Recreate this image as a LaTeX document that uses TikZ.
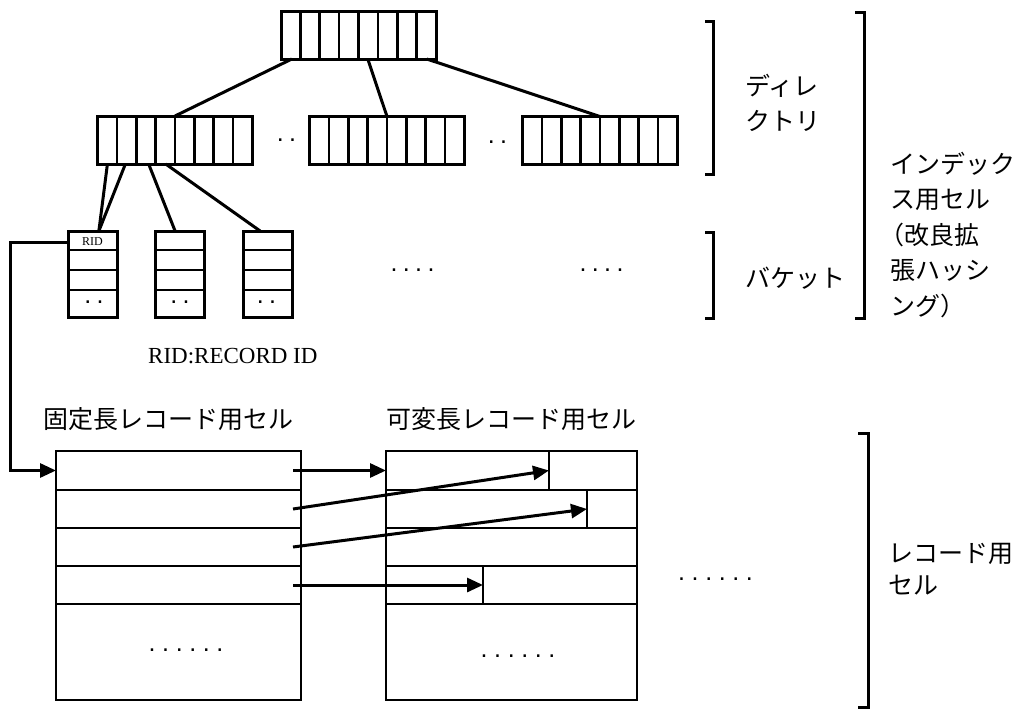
\documentclass[tikz,border=0pt]{standalone}
\usepackage{fontspec}
\newfontfamily\jpfont{Noto Sans CJK JP}
\newfontfamily\tmsfont{Liberation Serif}
\newfontfamily\dotfont{Liberation Sans}
\usetikzlibrary{calc,arrows.meta}
\begin{document}
\begin{tikzpicture}[x=1pt,y=-1pt,
  dirbox/.style={draw,line width=3pt,minimum width=155pt,minimum height=48pt,inner sep=0pt,outer sep=0pt},
  bucketbox/.style={draw,line width=3pt,minimum width=49pt,minimum height=86pt,inner sep=0pt,outer sep=0pt},
  divider/.style={line width=2.7pt},
  link/.style={line width=3pt},
  recrow/.style={draw,line width=2.6pt,inner sep=0pt,outer sep=0pt},
  arr/.style={line width=3pt,-{Triangle[length=16pt,width=14pt]}},
  brk/.style={line width=3pt},
  jp/.style={font=\jpfont\fontsize{25}{35.5}\selectfont,inner sep=0pt},
  dotrow/.style={font=\dotfont\fontsize{25}{25}\selectfont,inner sep=0pt},
]
\fill[white] (0,0) rectangle (1019,720);
\useasboundingbox (0,0) rectangle (1019,720);

% directory nodes
\node[dirbox] (dtop) at (358.5,35) {};
\node[dirbox] (d1) at (175,140) {};
\node[dirbox] (d2) at (387,140.5) {};
\node[dirbox] (d3) at (600,140.5) {};
\foreach \n in {dtop,d1,d2,d3}{
  \foreach \i in {1,...,7}{
    \draw[divider] ($(\n.north west)!\i/8!(\n.north east)$) -- ($(\n.south west)!\i/8!(\n.south east)$);
  }
}
\draw[link] ($(dtop.south west)!0.07!(dtop.south east)$) -- (d1.north);
\draw[link] ($(dtop.south west)!0.56!(dtop.south east)$) -- (d2.north);
\draw[link] ($(dtop.south west)!0.94!(dtop.south east)$) -- (d3.north);

\node[dotrow] (dd1) at (286.5,140) {.\kern5.4pt.};
\node[dotrow] (dd2) at (497.5,142) {.\kern5.4pt.};

% buckets
\node[bucketbox] (b1) at (92.5,274) {};
\node[bucketbox] (b2) at (179.5,274) {};
\node[bucketbox] (b3) at (267.5,274) {};
\foreach \n in {b1,b2,b3}{
  \foreach \f in {0.221,0.453,0.686}{
    \draw[divider] ($(\n.north west)!\f!(\n.south west)$) -- ($(\n.north east)!\f!(\n.south east)$);
  }
}
\draw[link] ($(d1.south west)!0.064!(d1.south east)$) -- ($(b1.north west)!0.63!(b1.north east)$);
\draw[link] ($(d1.south west)!0.18!(d1.south east)$) -- ($(b1.north west)!0.63!(b1.north east)$);
\draw[link] ($(d1.south west)!0.33!(d1.south east)$) -- ($(b2.north west)!0.41!(b2.north east)$);
\draw[link] ($(d1.south west)!0.44!(d1.south east)$) -- ($(b3.north west)!0.35!(b3.north east)$);

\node[font=\tmsfont\fontsize{12}{12}\selectfont,inner sep=0pt] (rid) at (92.5,242) {RID};
\node[dotrow] (bd1) at (94,302) {.\kern5.4pt.};
\node[dotrow] (bd2) at (180,302) {.\kern5.4pt.};
\node[dotrow] (bd3) at (266.5,302) {.\kern5.4pt.};
\node[dotrow] (bd4) at (412.5,270) {.\kern5.4pt.\kern5.4pt.\kern5.4pt.};
\node[dotrow] (bd5) at (601.5,270) {.\kern5.4pt.\kern5.4pt.\kern5.4pt.};

\node[font=\tmsfont\fontsize{23}{23}\selectfont,inner sep=0pt,anchor=west] (ridnote) at (148,356) {RID:RECORD ID};

% labels above record cells
\node[jp,anchor=west] (fixlabel) at (43,419) {固定長レコード用セル};
\node[jp,anchor=west] (varlabel) at (386,419) {可変長レコード用セル};

% fixed-length record cell
\node[recrow,minimum width=245pt,minimum height=39pt] (fr1) at (178.5,470.5) {};
\node[recrow,minimum width=245pt,minimum height=38pt] (fr2) at (178.5,509) {};
\node[recrow,minimum width=245pt,minimum height=38pt] (fr3) at (178.5,547) {};
\node[recrow,minimum width=245pt,minimum height=38pt] (fr4) at (178.5,585) {};
\node[recrow,minimum width=245pt,minimum height=96pt] (fr5) at (178.5,652) {};
% variable-length record cell
\node[recrow,minimum width=251pt,minimum height=39pt] (vr1) at (511.5,470.5) {};
\node[recrow,minimum width=251pt,minimum height=38pt] (vr2) at (511.5,509) {};
\node[recrow,minimum width=251pt,minimum height=38pt] (vr3) at (511.5,547) {};
\node[recrow,minimum width=251pt,minimum height=38pt] (vr4) at (511.5,585) {};
\node[recrow,minimum width=251pt,minimum height=96pt] (vr5) at (511.5,652) {};
\node[recrow,minimum width=88pt,minimum height=39pt] (v1b) at (593,470.5) {};
\node[recrow,minimum width=50pt,minimum height=38pt] (v2b) at (612,509) {};
\node[recrow,minimum width=154pt,minimum height=38pt] (v4b) at (560,585) {};

\node[dotrow] (rd1) at (186,650) {.\kern6.6pt.\kern6.6pt.\kern6.6pt.\kern6.6pt.\kern6.6pt.};
\node[dotrow] (rd2) at (518,656) {.\kern6.6pt.\kern6.6pt.\kern6.6pt.\kern6.6pt.\kern6.6pt.};
\node[dotrow] (rd3) at (715.5,579) {.\kern6.6pt.\kern6.6pt.\kern6.6pt.\kern6.6pt.\kern6.6pt.};

\draw[arr] (b1.west |- rid) -- ++(-58,0) |- (fr1.west);
\draw[arr] ($(fr1.east)+(-8,0)$) -- (vr1.west);
\draw[arr] ($(fr2.east)+(-8,0)$) -- (v1b.west);
\draw[arr] ($(fr3.east)+(-8,0)$) -- (v2b.west);
\draw[arr] ($(fr4.east)+(-8,0)$) -- (v4b.west);

% brackets
\draw[brk] (705,21) -- (713,21) -- (713,174) -- (705,174);
\draw[brk] (705,232) -- (713,232) -- (713,318) -- (705,318);
\draw[brk] (855,12) -- (864,12) -- (864,318) -- (855,318);
\draw[brk] (858,433) -- (868,433) -- (868,707) -- (858,707);

% right labels
\node[jp,font=\jpfont\fontsize{25}{35}\selectfont,anchor=west,align=left] (dirlabel) at (745,102.5) {ディレ\\クトリ};
\node[jp,anchor=west] (bucketlabel) at (745,278) {バケット};
\node[jp,anchor=west,align=left] (indexlabel) at (890,235) {インデック\\ス用セル\\\kern-11pt（改良拡\\張ハッシ\\ング）};
\node[jp,font=\jpfont\fontsize{25}{32}\selectfont,anchor=west,align=left] (reclabel) at (888,569) {レコード用\\セル};
\end{tikzpicture}
\end{document}
